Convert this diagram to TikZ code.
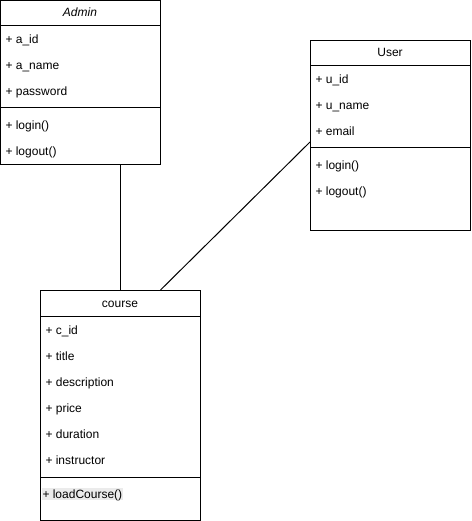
\documentclass[tikz,border=0pt]{standalone}
\usepackage{fontspec}
\setmainfont{Liberation Sans}
\usetikzlibrary{calc}
\tikzset{
  classbox/.style={draw, line width=1pt, anchor=north west, inner sep=0pt, minimum width=160pt},
  member/.style={anchor=west, inner sep=0pt, text height=10pt, text depth=2pt, font=\fontsize{12}{14}\selectfont},
  classname/.style={inner sep=0pt, text height=10pt, text depth=2pt, font=\fontsize{12}{14}\selectfont}
}
\begin{document}
\begin{tikzpicture}[x=1pt, y=-1pt, line width=1pt]
			%%%%% START %%%%%
			\useasboundingbox (0,0) rectangle (471,521);
			
			% Admin
			\node[classbox, minimum height=164pt] (admin) at (0,0) {};
			\node[classname, font=\fontsize{12}{14}\selectfont\itshape] (admintitle) at (80,13) {Admin};
			\draw (admin.north west) ++(0,26) -- ++(160,0);
			\draw (admin.north west) ++(0,108) -- ++(160,0);
			\foreach \t [count=\i] in {a\_id, a\_name, password}
				\node[member] (adminattr\i) at (5,14+26*\i) {+ \t};
			\foreach \t [count=\i] in {login(), logout()}
				\node[member] (adminop\i) at (5,100+26*\i) {+ \t};
			
			% User
			\node[classbox, minimum height=190pt] (user) at (310,40) {};
			\node[classname] (usertitle) at (390,53) {User};
			\draw (user.north west) ++(0,26) -- ++(160,0);
			\draw (user.north west) ++(0,108) -- ++(160,0);
			\foreach \t [count=\i] in {u\_id, u\_name, email}
				\node[member] (userattr\i) at (315,54+26*\i) {+ \t};
			\foreach \t [count=\i] in {login(), logout()}
				\node[member] (userop\i) at (315,140+26*\i) {+ \t};
			
			% course
			\node[classbox, minimum height=230pt] (course) at (40,290) {};
			\node[classname] (coursetitle) at (120,303) {course};
			\draw (course.north west) ++(0,26) -- ++(160,0);
			\draw (course.north west) ++(0,187) -- ++(160,0);
			\foreach \t [count=\i] in {c\_id, title, description, price, duration, instructor}
				\node[member] (courseattr\i) at (45,304+26*\i) {+ \t};
			\node[member, fill=black!8, inner xsep=1pt] (courseop1) at (41,494) {+ loadCourse()};
			
			% links
			\coordinate (userjoin) at ($(user.north west)+(0,102)$);
			\coordinate (coursejoin) at ($(course.north)+(40,0)$);
			\draw (admin.south -| course.north) -- (course.north);
			\draw (userjoin) -- (coursejoin);
			%%%%% END %%%%%
\end{tikzpicture}
\end{document}
